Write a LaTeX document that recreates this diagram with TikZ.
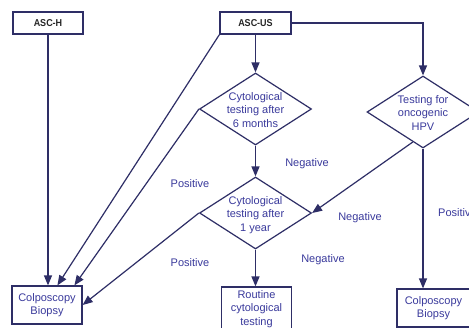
\documentclass[tikz,border=0pt]{standalone}
\usepackage{fontspec}
\setmainfont{Liberation Sans}
\usetikzlibrary{shapes.geometric,arrows.meta,calc}
\definecolor{lineC}{HTML}{2E2E66}
\definecolor{textC}{HTML}{3A3A9C}
\tikzset{
  box/.style={draw=lineC,line width=1.2pt,rectangle,inner sep=0pt,align=center,text=textC,font=\fontsize{11}{13.5}\selectfont},
  topbox/.style={draw=lineC,line width=1.2pt,rectangle,inner sep=0pt,minimum width=70pt,minimum height=22pt,font=\bfseries\fontsize{10}{12}\selectfont,text=black!85},
  dia/.style={draw=lineC,line width=1.2pt,diamond,inner sep=0pt,minimum width=112pt,minimum height=72pt},
  diatext/.style={align=center,text=textC,font=\fontsize{11}{13.5}\selectfont,inner sep=0pt},
  lbl/.style={text=textC,font=\fontsize{11}{13}\selectfont,inner sep=0pt},
  conn/.style={draw=lineC,line width=1.2pt,-{Triangle[length=10pt,width=8pt]}},
}
\begin{document}
\begin{tikzpicture}[x=1pt,y=-1pt]
\clip (0,0) rectangle (469,327);
\fill[white] (0,0) rectangle (469,327);
% top boxes
\node[topbox] (ah) at (48,23) {\scalebox{0.9}[1]{ASC-H}};
\node[topbox,minimum width=71pt] (as) at (255.5,23) {\scalebox{0.9}[1]{ASC-US}};
% diamonds
\node[dia] (d1) at (255.5,109) {};
\node[diatext] (d1t) at (255.5,110) {Cytological\\testing after\\6 months};
\node[dia] (d2) at (423,112) {};
\node[diatext] (d2t) at (423,113) {Testing for\\oncogenic\\HPV};
\node[dia] (d3) at (255.5,213) {};
\node[diatext] (d3t) at (255.5,215) {Cytological\\testing after\\1 year};
% bottom boxes
\node[box,minimum width=70pt,minimum height=38pt] (cl) at (47,305) {Colposcopy\\Biopsy};
\node[box,minimum width=70pt,minimum height=44pt] (rt) at (256.5,309) {Routine\\cytological\\testing};
\node[box,minimum width=73pt,minimum height=38pt] (cr) at (433.5,308) {Colposcopy\\Biopsy};
% connectors
\coordinate (clA) at ($(cl.north west)+(46,0)$);
\coordinate (clB) at ($(cl.north west)+(63,0)$);
\coordinate (d2s) at ($(d2.south)!0.18!(d2.west)$);
\draw[conn] (ah.south) -- (ah.south |- cl.north);
\draw[conn] (as.south west) -- (clA);
\draw[conn] (d1.west) -- (clB);
\draw[conn] (d3.west) -- (cl.east);
\draw[conn] (as.south) -- (d1.north);
\draw[conn] (as.east) -| (d2.north);
\draw[conn] (d1.south) -- (d3.north);
\draw[conn] (d2s) -- (d3.east);
\draw[conn] (d3.south) -- (d3.south |- rt.north);
\draw[conn] (d2.south) -- (d2.south |- cr.north);
% labels
\node[lbl] (p1) at (190,184) {Positive};
\node[lbl] (p2) at (190,263) {Positive};
\node[lbl] (n1) at (307,164) {Negative};
\node[lbl] (n2) at (360,218) {Negative};
\node[lbl] (n3) at (323,260) {Negative};
\node[lbl,anchor=west] (p3) at (438,213) {Positive};
\end{tikzpicture}
\end{document}
